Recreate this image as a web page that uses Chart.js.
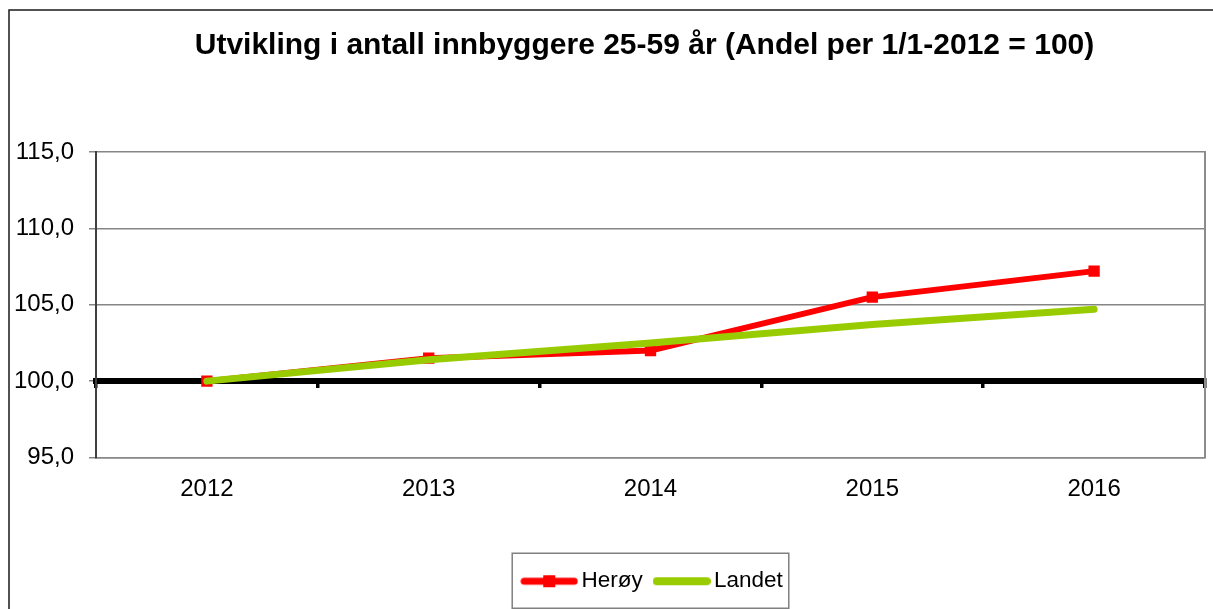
<!DOCTYPE html>
<html>
<head>
<meta charset="utf-8">
<script src="https://cdn.jsdelivr.net/npm/chart.js@4/dist/chart.umd.min.js"></script>
<style>
  html, body { margin: 0; padding: 0; background: #fff; }
  #wrap { position: relative; width: 1213px; height: 609px; }
</style>
</head>
<body>
<div id="wrap"><canvas id="c" width="1213" height="609"></canvas></div>
<script>
const titleText = 'Utvikling i antall innbyggere 25-59 år (Andel per 1/1-2012 = 100)';
const categories = ['2012', '2013', '2014', '2015', '2016'];
const heroy = [100.0, 101.5, 102.0, 105.5, 107.2];
const landet = [100.0, 101.4, 102.5, 103.7, 104.7];
const yTickValues = [95, 100, 105, 110, 115];
const baselineValue = 100;

const FONT = "'Liberation Sans', Arial, sans-serif";
const RED = '#FF0000';
const GREEN = '#99CC00';

function legendSymbol(color, width, marker) {
  const c = document.createElement('canvas');
  c.width = 58; c.height = 14;
  const g = c.getContext('2d');
  g.strokeStyle = color;
  g.lineWidth = width;
  g.lineCap = 'round';
  g.beginPath();
  g.moveTo(4, 7); g.lineTo(54, 7);
  g.stroke();
  if (marker) {
    g.fillStyle = color;
    g.fillRect(23, 1, 12, 12);
  }
  return c;
}
const symHeroy = legendSymbol(RED, 7, true);
const symLandet = legendSymbol(GREEN, 8, false);

const framePlugin = {
  id: 'frame',
  afterLayout(chart) {
    // fine horizontal placement of title and legend blocks
    if (chart.titleBlock) { chart.titleBlock.left -= 6; chart.titleBlock.right -= 6; }
    if (chart.legend) { chart.legend.left += 5; chart.legend.right += 5; }
  },
  afterDraw(chart) {
    const ctx = chart.ctx;
    ctx.save();
    ctx.strokeStyle = '#1a1a1a';
    ctx.lineWidth = 1.5;
    ctx.beginPath();
    ctx.moveTo(9, 609); ctx.lineTo(9, 10); ctx.lineTo(1213, 10);
    ctx.stroke();
    const hb = chart.legend.legendHitBoxes;
    if (hb && hb.length) {
      const left = Math.min(...hb.map(h => h.left)) - 16;
      const right = Math.max(...hb.map(h => h.left + h.width)) + 6;
      const cy = hb[0].top + hb[0].height / 2;
      ctx.strokeStyle = '#808080';
      ctx.lineWidth = 1.5;
      ctx.strokeRect(left, cy - 28, right - left, 55);
    }
    ctx.restore();
  }
};

Chart.defaults.color = '#000';
Chart.defaults.font.family = FONT;

new Chart(document.getElementById('c'), {
  type: 'line',
  data: {
    labels: categories,
    datasets: [
      {
        label: 'Herøy',
        data: heroy,
        borderColor: RED,
        backgroundColor: RED,
        borderWidth: 6,
        pointStyle: 'rect',
        pointRadius: 8,
        pointBorderWidth: 0,
        pointBackgroundColor: RED,
        borderJoinStyle: 'round',
        borderCapStyle: 'round',
        tension: 0,
        order: 1
      },
      {
        label: 'Landet',
        data: landet,
        borderColor: GREEN,
        backgroundColor: GREEN,
        borderWidth: 7,
        pointRadius: 0,
        borderJoinStyle: 'round',
        borderCapStyle: 'round',
        tension: 0,
        order: 0
      }
    ]
  },
  options: {
    responsive: false,
    animation: false,
    events: [],
    layout: { padding: { left: 10, right: 5, top: 0, bottom: 6.5 } },
    plugins: {
      tooltip: { enabled: false },
      title: {
        display: true,
        fullSize: false,
        text: titleText,
        color: '#000',
        font: { family: FONT, size: 30, weight: 'bold', lineHeight: 1.2 },
        padding: { top: 28, bottom: 88 }
      },
      legend: {
        display: true,
        fullSize: false,
        position: 'bottom',
        labels: {
          font: { family: FONT, size: 22.5 },
          color: '#000',
          usePointStyle: true,
          pointStyleWidth: 42,
          padding: 18,
          sort: (a, b) => a.datasetIndex - b.datasetIndex,
          generateLabels(chart) {
            const items = Chart.defaults.plugins.legend.labels.generateLabels(chart);
            items.forEach(it => {
              it.pointStyle = it.datasetIndex === 0 ? symHeroy : symLandet;
            });
            return items;
          }
        }
      }
    },
    scales: {
      x: {
        type: 'category',
        position: 'bottom',
        offset: true,
        grid: { display: false, drawTicks: false },
        border: { display: true, color: '#888', width: 1.5 },
        ticks: { font: { family: FONT, size: 24 }, color: '#000', padding: 17, maxRotation: 0 },
        afterFit(s) { s.height = 94.5; }
      },
      x2: {
        type: 'category',
        position: { y: baselineValue },
        offset: true,
        grid: { display: true, drawOnChartArea: false, drawTicks: true, tickLength: 4, color: '#000', lineWidth: 3.5, offset: true },
        border: { display: true, color: '#000', width: 6 },
        ticks: { display: false }
      },
      y: {
        type: 'linear',
        position: 'left',
        min: yTickValues[0],
        max: yTickValues[yTickValues.length - 1],
        afterBuildTicks(s) { s.ticks = yTickValues.map(v => ({ value: v })); },
        grid: { color: '#858585', lineWidth: 1.5, tickLength: 7, drawTicks: true },
        border: { display: true, color: '#404040', width: 2 },
        ticks: {
          font: { family: FONT, size: 24 },
          color: '#000',
          padding: 15,
          callback: v => v.toFixed(1).replace('.', ',')
        },
        afterFit(s) { s.width = 86; }
      },
      y2: {
        type: 'linear',
        position: 'right',
        min: yTickValues[0],
        max: yTickValues[yTickValues.length - 1],
        grid: { display: false, drawTicks: false },
        border: { display: true, color: '#8c8c8c', width: 2 },
        ticks: { display: false },
        afterFit(s) { s.width = 0; }
      }
    }
  },
  plugins: [framePlugin]
});
</script>
</body>
</html>
